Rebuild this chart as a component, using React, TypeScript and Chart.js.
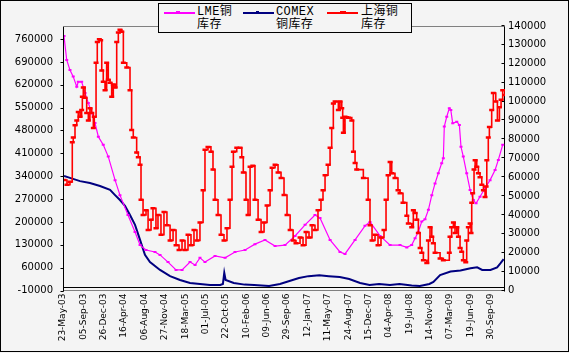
import React, { useEffect, useRef } from "react";
import { Chart, registerables } from "chart.js";

Chart.register(...registerables);

// Category labels shown every 15 weeks (75 trading days)
const xTickLabels = [
  "23-May-03", "05-Sep-03", "26-Dec-03", "16-Apr-04", "06-Aug-04", "27-Nov-04",
  "18-Mar-05", "01-Jul-05", "22-Oct-05", "10-Feb-06", "09-Jun-06", "29-Sep-06",
  "12-Jan-07", "11-May-07", "24-Aug-07", "15-Dec-07", "04-Apr-08", "19-Jul-08",
  "14-Nov-08", "07-Mar-09", "19-Jun-09", "30-Sep-09",
];
const weeksPerLabel = 15;
const xMaxWeeks = 324.7;

const leftAxisTicks = [-10000, 60000, 130000, 200000, 270000, 340000, 410000, 480000, 550000, 620000, 690000, 760000];
const leftAxisMin = -10000;
const leftAxisMax = 800000;
const rightAxisTicks = [0, 10000, 20000, 30000, 40000, 50000, 60000, 70000, 80000, 90000, 100000, 110000, 120000, 130000, 140000];

// [week index, stock]
const lmeStocks: [number, number][] = [
  [0, 769000], [2, 696000], [4.4, 665000], [6.8, 645000], [9.4, 614000], [10.5, 629000], [13, 629000],
  [15.5, 595000], [17.9, 564000], [20.4, 534000], [22.8, 503000], [25.3, 461000], [28.9, 436000],
  [32.6, 400000], [37.6, 328000], [41.2, 282000], [47.1, 221000], [52.3, 169000], [56, 129000],
  [60.4, 114000], [67, 108000], [70.7, 99000], [76.6, 77000], [82.5, 53000], [86.9, 53000],
  [92.8, 77000], [96.5, 68000], [100.1, 90000], [103.8, 77000], [111.2, 96000], [118.6, 90000],
  [125.9, 108000], [133.3, 114000], [140.6, 132000], [148, 145000], [155.4, 126000], [162.7, 129000],
  [170.1, 157000], [177.5, 191000], [184.8, 221000], [188.5, 212000], [195.9, 145000], [203.2, 108000],
  [206.9, 102000], [214.3, 145000], [221.6, 188000], [225.3, 200000], [232.7, 157000], [240.1, 129000],
  [247.4, 129000], [252.4, 122000], [256, 129000], [258.5, 150000], [260.9, 170000], [263.4, 201000],
  [265.8, 208000], [268.3, 237000], [270.8, 282000], [273.2, 318000], [275.6, 349000], [278.1, 380000],
  [279.3, 395000], [280, 492000], [281.8, 522000], [283.7, 548000], [284.8, 543000], [286.2, 502000],
  [289.2, 507000], [291.1, 497000], [292.3, 430000], [294, 400000], [296.5, 349000], [299, 298000],
  [301.4, 267000], [303.4, 257000], [306.3, 277000], [310, 303000], [313.7, 328000], [317.4, 359000],
  [319.8, 390000], [323, 436000],
];

const comexStocks: [number, number][] = [
  [0, 341000], [4.4, 335000], [11.8, 325000], [19.1, 319000], [26.5, 310000], [33.9, 298000],
  [37.6, 282000], [41.2, 267000], [44.9, 249000], [48.6, 221000], [52.3, 191000], [56, 145000],
  [59.6, 99000], [63.3, 77000], [70.7, 53000], [78.1, 34000], [85.4, 22000], [92.8, 13000],
  [100.1, 10000], [107.5, 7000], [115, 7000], [117, 10000], [118, 44000], [119, 22000], [125, 13000],
  [133, 8000], [140, 7000], [151, 4000], [159, 10000], [166, 19000], [173, 28000], [180, 34000],
  [188, 37000], [195, 34000], [203, 31000], [210, 25000], [218, 13000], [225, 7000], [232, 10000],
  [240, 7000], [247, 10000], [256, 5000], [262, 4000], [269, 10000], [272, 16000], [276.9, 37000],
  [284.6, 48000], [291.9, 51000], [299.3, 58000], [304.2, 61000], [307.9, 53000], [314, 53000],
  [318.9, 61000], [321.3, 73000], [323.7, 86000],
];

const shfeStocks: [number, number][] = [
  [0, 58500], [2.2, 56000], [4.4, 57500], [6.1, 78500], [6.8, 81000], [8.1, 87500], [9.4, 90000],
  [10.5, 94500], [11.8, 92000], [13, 95500], [13.5, 102500], [14.2, 107500], [15.5, 102000],
  [16.7, 94000], [17.9, 90000], [19.1, 96500], [20.4, 94000], [21.6, 86000], [22.3, 92000],
  [23.6, 120500], [24.5, 131500], [26, 133000], [27, 132500], [27.8, 116500], [28.9, 110500],
  [30.2, 106000], [31.4, 120500], [32.6, 111500], [33.9, 110000], [35.1, 102500], [36.3, 109000],
  [37.6, 107500], [38.8, 131500], [40, 136500], [41.2, 138000], [42.5, 137000], [43.7, 120500],
  [46.2, 118000], [48.6, 106000], [49.8, 85000], [51, 81000], [53.5, 73000], [54.7, 70500],
  [56, 66500], [56.7, 48000], [58.2, 40000], [60.4, 42500], [61.9, 32000], [64.1, 37500],
  [65.5, 43500], [67.7, 33000], [69.2, 40000], [71.4, 29500], [73.6, 41500], [75.8, 34500],
  [78.1, 26500], [80.3, 32000], [82.5, 24000], [84.7, 21500], [86.9, 26500], [89.1, 21500],
  [91.3, 29500], [93.5, 24000], [95.7, 32000], [97.9, 26500], [100.1, 36000], [102.4, 53000],
  [103.8, 74500], [106, 76000], [108.2, 73500], [109.7, 64000], [111.2, 48000], [113.4, 40000],
  [115.6, 29500], [117.8, 26500], [120, 33000], [122.2, 48000], [123.7, 65500], [124.7, 73500],
  [127.2, 75500], [129.6, 75500], [130.9, 70500], [132, 62500], [134, 48000], [135.5, 40000],
  [137, 65500], [139, 66000], [140.6, 48000], [142.9, 37500], [145.1, 31000], [147.3, 36000],
  [149.5, 45000], [151.7, 53000], [153.2, 65000], [155.4, 66500], [157.6, 62500], [159.8, 59500],
  [162, 50500], [164.2, 40000], [166.5, 32000], [168.7, 26500], [170.8, 25000], [173.8, 28000],
  [176, 24000], [178.2, 31000], [180.4, 28000], [182.6, 34500], [184.8, 32000], [187, 42500],
  [189.2, 48000], [190.7, 53000], [192.2, 61000], [194.4, 66500], [195.9, 75500], [197.1, 86000],
  [198.3, 99000], [199.6, 100000], [202, 95500], [203.2, 100000], [204.5, 96500], [205.2, 91500],
  [205.7, 83500], [206.9, 92000], [209.4, 91500], [211.9, 90000], [213.1, 73500], [214.3, 67500],
  [215.5, 64000], [220.4, 59500], [223.9, 48000], [225.3, 34500], [226.8, 26500], [229, 29500],
  [231.2, 24000], [233.4, 28000], [235.6, 32000], [237.1, 48000], [238.6, 61000], [240.1, 68000],
  [241.3, 62000], [243.7, 59500], [245.9, 53000], [247.4, 51500], [249.6, 46500], [252.4, 39500],
  [253.5, 35500], [256, 33500], [257.2, 42500], [258.5, 41000], [259.7, 37500], [260.9, 30500],
  [262.2, 22500], [263.4, 20000], [264.6, 16000], [267.1, 14500], [268.3, 26500], [269.5, 33500],
  [270.8, 28500], [271.9, 25000], [273.2, 20000], [276.9, 17000], [279.3, 16000], [283.7, 20000],
  [284.2, 28500], [285.4, 33500], [286.7, 36000], [287.9, 30500], [289.2, 33500], [290.4, 28500],
  [291.6, 22500], [292.8, 20500], [294, 16000], [295.8, 15000], [296.5, 26500], [297.7, 33500],
  [299, 35500], [299.7, 30500], [300.2, 46500], [300.9, 51500], [301.9, 64000], [302.7, 69000],
  [303.9, 65500], [305.1, 62000], [306.3, 60000], [307.6, 56000], [308.8, 53000], [310, 49500],
  [310.8, 55000], [311.3, 69000], [312.4, 81000], [313.2, 86500], [314.9, 95500], [316.1, 104500],
  [317.9, 100000], [319.1, 90000], [320.6, 97000], [321.8, 101000], [323, 106000], [324.7, 103500],
];

const LME_COLOR = "#ff00ff";
const COMEX_COLOR = "#000080";
const SHFE_COLOR = "#ff0000";
const BG = "#f4f4f4";

const toXY = (pairs: [number, number][]) => pairs.map(([x, y]) => ({ x, y }));

const framePlugin = {
  id: "excelFrame",
  beforeDatasetsDraw(chart: any) {
    const { ctx, chartArea: a, scales } = chart;
    ctx.save();
    ctx.lineWidth = 1;
    ctx.strokeStyle = "#808080";
    ctx.beginPath();
    const top = Math.round(a.top) + 0.5;
    const bottom = Math.round(a.bottom) - 0.5;
    ctx.moveTo(a.left, top);
    ctx.lineTo(a.right, top);
    ctx.moveTo(a.left, bottom);
    ctx.lineTo(a.right, bottom);
    ctx.stroke();

    ctx.strokeStyle = "#000";
    ctx.beginPath();
    const xl = Math.round(a.left) - 0.5;
    const xr = Math.round(a.right) - 0.5;
    ctx.moveTo(xl, top);
    ctx.lineTo(xl, bottom + 1);
    ctx.moveTo(xr, top);
    ctx.lineTo(xr, bottom + 1);
    for (const v of leftAxisTicks) {
      const y = Math.round(scales.y.getPixelForValue(v)) + 0.5;
      ctx.moveTo(xl - 3, y);
      ctx.lineTo(xl, y);
    }
    for (const v of rightAxisTicks) {
      const y = Math.round(scales.y1.getPixelForValue(v)) - 0.5;
      ctx.moveTo(xr - 3, y);
      ctx.lineTo(xr, y);
    }
    const y0 = Math.round(scales.y.getPixelForValue(0)) + 0.5;
    ctx.moveTo(xl, y0);
    ctx.lineTo(xr, y0);
    ctx.stroke();
    ctx.restore();
  },
};

const legendItems = [
  { color: LME_COLOR, lineLeft: 164, markLeft: 176, markW: 4, markH: 3, textLeft: 197, lines: ["LME铜", "库存"] },
  { color: COMEX_COLOR, lineLeft: 243, markLeft: 256, markW: 3, markH: 2, textLeft: 276, lines: ["COMEX", "铜库存"] },
  { color: SHFE_COLOR, lineLeft: 327, markLeft: 340, markW: 6, markH: 3, textLeft: 361, lines: ["上海铜", "库存"] },
];

export default function App() {
  const canvasRef = useRef<HTMLCanvasElement | null>(null);

  useEffect(() => {
    const canvas = canvasRef.current;
    if (!canvas) return;
    const tickFont = { family: "DejaVu Sans", size: 10 };
    const chart = new Chart(canvas, {
      type: "line",
      data: {
        datasets: [
          {
            label: "LME铜库存",
            data: toXY(lmeStocks),
            yAxisID: "y",
            borderColor: LME_COLOR,
            backgroundColor: LME_COLOR,
            borderWidth: 1.2,
            pointStyle: "line",
            pointRadius: 1.5,
            pointBorderWidth: 2,
            pointBorderColor: LME_COLOR,
            tension: 0,
            order: 1,
          },
          {
            label: "COMEX铜库存",
            data: toXY(comexStocks),
            yAxisID: "y",
            borderColor: COMEX_COLOR,
            backgroundColor: COMEX_COLOR,
            borderWidth: 2,
            pointRadius: 0,
            tension: 0,
            order: 2,
          },
          {
            label: "上海铜库存",
            data: toXY(shfeStocks),
            yAxisID: "y1",
            borderColor: SHFE_COLOR,
            backgroundColor: SHFE_COLOR,
            borderWidth: 1.6,
            stepped: "before",
            pointStyle: "line",
            pointRadius: 2.5,
            pointBorderWidth: 2.5,
            pointBorderColor: SHFE_COLOR,
            order: 0,
          },
        ],
      },
      options: {
        animation: false,
        responsive: false,
        devicePixelRatio: 1,
        events: [],
        layout: { padding: { top: 26, left: 0, right: 0, bottom: 0 } },
        plugins: { legend: { display: false }, tooltip: { enabled: false } },
        scales: {
          x: {
            type: "linear",
            min: 0,
            max: xMaxWeeks,
            grid: { display: false, drawTicks: false },
            border: { display: false },
            afterBuildTicks: (axis: any) => {
              axis.ticks = xTickLabels.map((_, i) => ({ value: i * weeksPerLabel }));
            },
            afterFit: (axis: any) => {
              axis.height = 62.5;
            },
            ticks: {
              autoSkip: false,
              minRotation: 90,
              maxRotation: 90,
              padding: 3,
              labelOffset: -1,
              color: "#000",
              font: { family: "DejaVu Sans", size: 9 },
              callback: (v: any) => xTickLabels[Math.round(Number(v) / weeksPerLabel)] ?? "",
            },
          },
          y: {
            type: "linear",
            position: "left",
            min: leftAxisMin,
            max: leftAxisMax,
            grid: { display: false, drawTicks: false },
            border: { display: false },
            afterBuildTicks: (axis: any) => {
              axis.ticks = leftAxisTicks.map((v) => ({ value: v }));
            },
            afterFit: (axis: any) => {
              axis.width = 64;
            },
            ticks: { padding: 11, color: "#000", font: tickFont, callback: (v: any) => String(v) },
          },
          y1: {
            type: "linear",
            position: "right",
            min: 0,
            max: 140000,
            grid: { display: false, drawTicks: false },
            border: { display: false },
            afterBuildTicks: (axis: any) => {
              axis.ticks = rightAxisTicks.map((v) => ({ value: v }));
            },
            afterFit: (axis: any) => {
              axis.width = 64;
            },
            ticks: { padding: 3, color: "#000", font: tickFont, callback: (v: any) => String(v) },
          },
        },
      },
      plugins: [framePlugin],
    } as any);
    return () => chart.destroy();
  }, []);

  const legendFont = '"Liberation Mono", "Noto Sans CJK SC", monospace';

  return (
    <div style={{ position: "fixed", left: 0, top: 0, width: 569, height: 353, background: BG, overflow: "hidden" }}>
      <div
        style={{
          position: "absolute", left: 0, top: 0, width: 569, height: 352,
          border: "1px solid #000", boxSizing: "border-box",
        }}
      />
      <canvas ref={canvasRef} width={569} height={353} style={{ position: "absolute", left: 0, top: 0, width: 569, height: 353 }} />
      <div
        style={{
          position: "absolute", left: 158, top: 3, width: 254, height: 30,
          border: "1px solid #000", boxSizing: "border-box", background: BG,
        }}
      />
      {legendItems.map((it, i) => (
        <React.Fragment key={i}>
          <div style={{ position: "absolute", left: it.lineLeft, top: 12, width: 31, height: 2, background: it.color }} />
          <div style={{ position: "absolute", left: it.markLeft, top: 11, width: it.markW, height: it.markH, background: it.color }} />
          <div
            style={{
              position: "absolute", left: it.textLeft, top: 6, fontFamily: legendFont, fontSize: 12,
              lineHeight: "12.5px", letterSpacing: "0.4px", color: "#000", whiteSpace: "nowrap",
            }}
          >
            <div>{it.lines[0]}</div>
            <div>{it.lines[1]}</div>
          </div>
        </React.Fragment>
      ))}
    </div>
  );
}
